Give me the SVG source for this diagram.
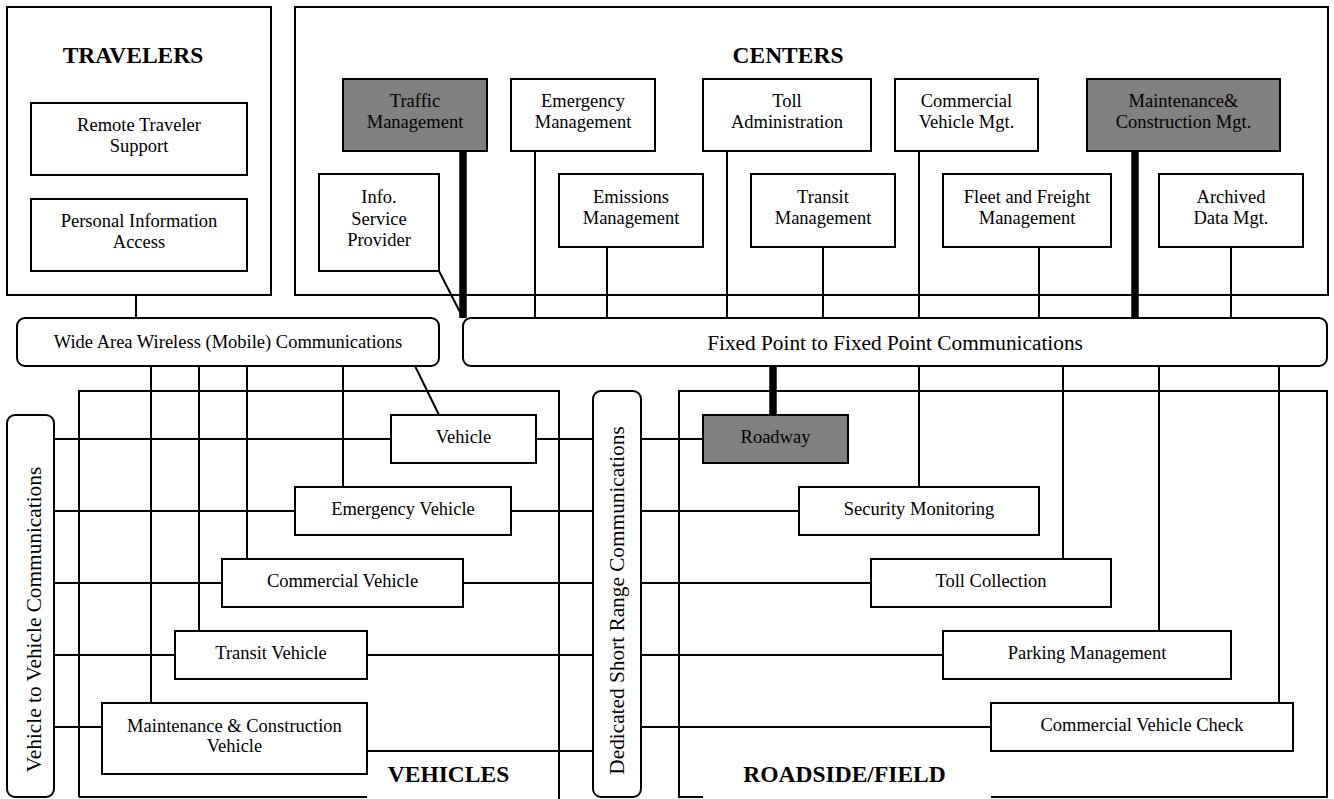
<svg xmlns="http://www.w3.org/2000/svg" width="1334" height="799" viewBox="0 0 1334 799">
<style>
.box{fill:#fff;stroke:#000;stroke-width:2}
.gray{fill:#808080}
.ln{fill:none;stroke:#000;stroke-width:2}
.thick{fill:none;stroke:#000;stroke-width:7.5}
text{font-family:"Liberation Serif","Times New Roman",serif;font-size:18.5px;text-anchor:middle;fill:#000}
.big{font-size:21.3px}
.title{font-size:23.5px;font-weight:bold}
</style>
<rect width="1334" height="799" fill="#fff"/>

<g id="regions">
  <rect id="travelers-region" class="box" x="7" y="7" width="264" height="288"/>
  <rect id="centers-region" class="box" x="295" y="7" width="1033" height="288"/>
  <path id="vehicles-region" class="ln" d="M79 797 V391 H559 V799 M79 797 H367"/>
  <path id="roadside-region" class="ln" d="M703 797 H679 V391 H1327 V797 H991"/>
</g>

<g id="connectors">
  <path class="ln" d="M136 295 V318"/>
  <path class="ln" d="M439 271 L463 318"/>
  <path class="thick" d="M463 151 V318"/>
  <path class="ln" d="M535 151 V318"/>
  <path class="ln" d="M607 247 V318"/>
  <path class="ln" d="M727 151 V318"/>
  <path class="ln" d="M823 247 V318"/>
  <path class="ln" d="M919 151 V318"/>
  <path class="ln" d="M1039 247 V318"/>
  <path class="thick" d="M1135 151 V318"/>
  <path class="ln" d="M1231 247 V318"/>

  <path class="ln" d="M151 366 V703"/>
  <path class="ln" d="M199 366 V631"/>
  <path class="ln" d="M247 366 V559"/>
  <path class="ln" d="M343 366 V487"/>
  <path class="ln" d="M415 366 L439 415"/>

  <path class="ln" d="M54 439 H391"/>
  <path class="ln" d="M54 511 H295"/>
  <path class="ln" d="M54 583 H222"/>
  <path class="ln" d="M54 655 H175"/>
  <path class="ln" d="M54 727 H102"/>

  <path class="ln" d="M536 439 H593"/>
  <path class="ln" d="M511 511 H593"/>
  <path class="ln" d="M463 583 H593"/>
  <path class="ln" d="M367 655 H593"/>
  <path class="ln" d="M367 751 H593"/>

  <path class="ln" d="M641 439 H703"/>
  <path class="ln" d="M641 511 H799"/>
  <path class="ln" d="M641 583 H871"/>
  <path class="ln" d="M641 655 H943"/>
  <path class="ln" d="M641 727 H991"/>

  <path class="thick" d="M773 366 V415"/>
  <path class="ln" d="M919 366 V487"/>
  <path class="ln" d="M1063 366 V559"/>
  <path class="ln" d="M1159 366 V631"/>
  <path class="ln" d="M1279 366 V703"/>
</g>

<g id="titles">
  <text class="title" x="133" y="63">TRAVELERS</text>
  <text class="title" x="788" y="63">CENTERS</text>
  <text class="title" x="448.5" y="782">VEHICLES</text>
  <text class="title" x="844.5" y="782">ROADSIDE/FIELD</text>
</g>

<g id="remote-traveler-support"><rect class="box" x="31" y="103" width="216" height="72"/><text x="139" y="131">Remote Traveler</text><text x="139" y="152">Support</text></g>
<g id="personal-information-access"><rect class="box" x="31" y="199" width="216" height="72"/><text x="139" y="227">Personal Information</text><text x="139" y="248">Access</text></g>

<g id="traffic-management"><rect class="box gray" x="343" y="79" width="144" height="72"/><text x="415" y="107">Traffic</text><text x="415" y="128">Management</text></g>
<g id="emergency-management"><rect class="box" x="511" y="79" width="144" height="72"/><text x="583" y="107">Emergency</text><text x="583" y="128">Management</text></g>
<g id="toll-administration"><rect class="box" x="703" y="79" width="168" height="72"/><text x="787" y="107">Toll</text><text x="787" y="128">Administration</text></g>
<g id="commercial-vehicle-mgt"><rect class="box" x="895" y="79" width="143" height="72"/><text x="966.5" y="107">Commercial</text><text x="966.5" y="128">Vehicle Mgt.</text></g>
<g id="maintenance-construction-mgt"><rect class="box gray" x="1087" y="79" width="193" height="72"/><text x="1183.5" y="107">Maintenance&amp;</text><text x="1183.5" y="128">Construction Mgt.</text></g>

<g id="info-service-provider"><rect class="box" x="319" y="174" width="120" height="97"/><text x="379" y="203">Info.</text><text x="379" y="224.5">Service</text><text x="379" y="246">Provider</text></g>
<g id="emissions-management"><rect class="box" x="559" y="174" width="144" height="73"/><text x="631" y="203">Emissions</text><text x="631" y="224">Management</text></g>
<g id="transit-management"><rect class="box" x="751" y="174" width="144" height="73"/><text x="823" y="203">Transit</text><text x="823" y="224">Management</text></g>
<g id="fleet-freight-management"><rect class="box" x="943" y="174" width="168" height="73"/><text x="1027" y="203">Fleet and Freight</text><text x="1027" y="224">Management</text></g>
<g id="archived-data-mgt"><rect class="box" x="1159" y="174" width="144" height="73"/><text x="1231" y="203">Archived</text><text x="1231" y="224">Data Mgt.</text></g>

<g id="wide-area-wireless"><rect class="box" x="17" y="318" width="422" height="48" rx="8"/><text x="228" y="348">Wide Area Wireless (Mobile) Communications</text></g>
<g id="fixed-point"><rect class="box" x="463" y="318" width="864" height="48" rx="8"/><text class="big" x="895" y="350">Fixed Point to Fixed Point Communications</text></g>
<g id="vehicle-to-vehicle"><rect class="box" x="7" y="415" width="47" height="382" rx="8"/><text class="big" transform="translate(41 619.5) rotate(-90)">Vehicle to Vehicle Communications</text></g>
<g id="dsrc"><rect class="box" x="593" y="391" width="48" height="406" rx="8"/><text class="big" transform="translate(624 600.5) rotate(-90)">Dedicated Short Range Communications</text></g>

<g id="vehicle"><rect class="box" x="391" y="415" width="145" height="48"/><text x="463.5" y="443">Vehicle</text></g>
<g id="emergency-vehicle"><rect class="box" x="295" y="487" width="216" height="48"/><text x="403" y="515">Emergency Vehicle</text></g>
<g id="commercial-vehicle"><rect class="box" x="222" y="559" width="241" height="48"/><text x="342.5" y="587">Commercial Vehicle</text></g>
<g id="transit-vehicle"><rect class="box" x="175" y="631" width="192" height="48"/><text x="271" y="659">Transit Vehicle</text></g>
<g id="maintenance-construction-vehicle"><rect class="box" x="102" y="703" width="265" height="71"/><text x="234.5" y="732">Maintenance &amp; Construction</text><text x="234.5" y="752">Vehicle</text></g>

<g id="roadway"><rect class="box gray" x="703" y="415" width="145" height="48"/><text x="775.5" y="443">Roadway</text></g>
<g id="security-monitoring"><rect class="box" x="799" y="487" width="240" height="48"/><text x="919" y="515">Security Monitoring</text></g>
<g id="toll-collection"><rect class="box" x="871" y="559" width="240" height="48"/><text x="991" y="587">Toll Collection</text></g>
<g id="parking-management"><rect class="box" x="943" y="631" width="288" height="48"/><text x="1087" y="659">Parking Management</text></g>
<g id="commercial-vehicle-check"><rect class="box" x="991" y="703" width="302" height="48"/><text x="1142" y="731">Commercial Vehicle Check</text></g>
</svg>
